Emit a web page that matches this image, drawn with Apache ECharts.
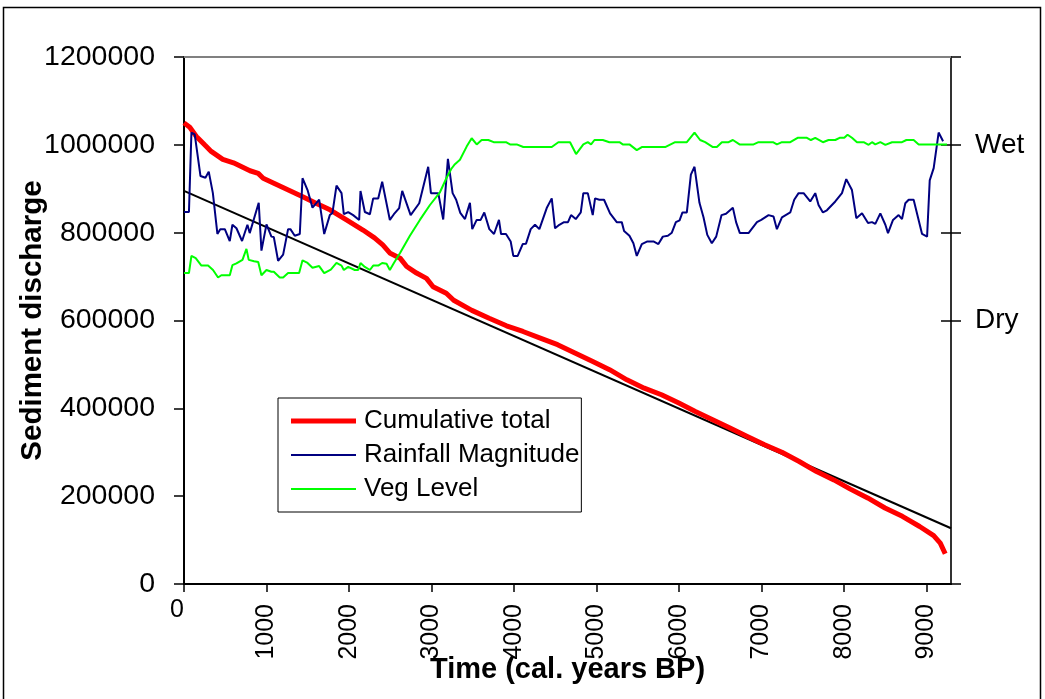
<!DOCTYPE html>
<html>
<head>
<meta charset="utf-8">
<script src="https://cdn.jsdelivr.net/npm/echarts@6/dist/echarts.min.js"></script>
<style>
html,body{margin:0;padding:0;background:#fff;}
#chart{width:1045px;height:699px;}
</style>
</head>
<body>
<div id="chart"></div>
<script>
// ---------------- DATA ----------------
var xTickValues = [0, 1000, 2000, 3000, 4000, 5000, 6000, 7000, 8000, 9000];
var yTickLabelsRight = { 1000000: 'Wet', 600000: 'Dry' };
var rightTickValues = [0, 600000, 800000, 1000000, 1200000];

var cumulativeYears = [0, 70, 150, 250, 330, 470, 600, 800, 900, 960, 1200, 1440, 1600, 1770, 1970, 2170, 2310, 2410, 2500, 2620, 2700, 2820, 2940, 3020, 3180, 3270, 3490, 3700, 3910, 4110, 4320, 4530, 4740, 4950, 5160, 5370, 5580, 5790, 6000, 6200, 6410, 6620, 6830, 7040, 7250, 7460, 7670, 7880, 8080, 8290, 8500, 8710, 8920, 9090, 9170, 9230];
var cumulativeValues = [1050000, 1040000, 1019000, 1000000, 985000, 967000, 959000, 941000, 935000, 924000, 903000, 882000, 867000, 852000, 829000, 806000, 788000, 772000, 753000, 742000, 723000, 708000, 696000, 677000, 662000, 646000, 623000, 605000, 588000, 575000, 560000, 545000, 526000, 507000, 488000, 465000, 446000, 431000, 412000, 393000, 374000, 355000, 336000, 317000, 300000, 279000, 256000, 237000, 216000, 196000, 173000, 154000, 131000, 110000, 93000, 69000];

var rainfallYears = [0, 60, 90, 130, 200, 260, 300, 350, 405, 440, 495, 555, 587, 636, 704, 769, 797, 906, 939, 1000, 1060, 1089, 1141, 1202, 1262, 1290, 1343, 1404, 1437, 1498, 1558, 1639, 1700, 1768, 1800, 1849, 1910, 1938, 1991, 2051, 2124, 2140, 2193, 2254, 2294, 2355, 2403, 2496, 2545, 2609, 2646, 2748, 2852, 2961, 2994, 3083, 3143, 3200, 3257, 3300, 3350, 3407, 3467, 3495, 3549, 3597, 3641, 3702, 3759, 3819, 3844, 3904, 3961, 3993, 4046, 4107, 4147, 4204, 4256, 4309, 4398, 4459, 4499, 4551, 4608, 4656, 4693, 4750, 4811, 4842, 4896, 4956, 4984, 5036, 5093, 5166, 5247, 5308, 5336, 5401, 5449, 5490, 5551, 5619, 5692, 5752, 5806, 5867, 5915, 5964, 6009, 6044, 6097, 6146, 6190, 6250, 6299, 6345, 6400, 6453, 6518, 6572, 6655, 6694, 6740, 6845, 6947, 6999, 7088, 7148, 7189, 7250, 7351, 7399, 7452, 7513, 7593, 7654, 7694, 7747, 7795, 7897, 7978, 8030, 8099, 8152, 8221, 8294, 8342, 8382, 8443, 8504, 8536, 8597, 8665, 8706, 8746, 8787, 8847, 8949, 9010, 9042, 9090, 9150, 9204];
var rainfallValues = [847000, 847000, 1028000, 1024000, 929000, 925000, 939000, 890000, 797000, 808000, 808000, 781000, 818000, 810000, 781000, 818000, 799000, 868000, 759000, 819000, 791000, 790000, 736000, 750000, 808000, 808000, 793000, 797000, 924000, 897000, 857000, 875000, 797000, 840000, 845000, 907000, 890000, 842000, 847000, 840000, 829000, 895000, 847000, 842000, 878000, 878000, 916000, 829000, 842000, 856000, 895000, 840000, 867000, 950000, 890000, 890000, 830000, 968000, 890000, 875000, 845000, 831000, 868000, 808000, 829000, 829000, 846000, 808000, 797000, 829000, 797000, 797000, 780000, 747000, 747000, 774000, 775000, 808000, 818000, 808000, 856000, 878000, 810000, 818000, 824000, 824000, 840000, 831000, 846000, 890000, 890000, 840000, 878000, 875000, 875000, 844000, 824000, 824000, 804000, 793000, 776000, 747000, 774000, 780000, 780000, 774000, 791000, 793000, 800000, 824000, 828000, 846000, 846000, 932000, 950000, 868000, 835000, 795000, 776000, 791000, 840000, 843000, 857000, 824000, 799000, 799000, 824000, 829000, 840000, 837000, 808000, 835000, 846000, 875000, 890000, 890000, 871000, 890000, 863000, 846000, 851000, 871000, 890000, 922000, 897000, 833000, 844000, 822000, 824000, 820000, 844000, 818000, 799000, 829000, 840000, 831000, 867000, 875000, 875000, 797000, 791000, 919000, 947000, 1028000, 1008000];

var vegYears = [0, 60, 90, 142, 211, 292, 352, 413, 453, 555, 587, 636, 709, 757, 785, 850, 900, 939, 1000, 1060, 1089, 1161, 1202, 1262, 1396, 1437, 1498, 1558, 1639, 1700, 1780, 1849, 1910, 1938, 1991, 2071, 2112, 2140, 2193, 2254, 2294, 2355, 2403, 2456, 2496, 2545, 2618, 2739, 2860, 2982, 3103, 3184, 3240, 3285, 3346, 3427, 3488, 3549, 3609, 3690, 3755, 3904, 3953, 4034, 4114, 4459, 4539, 4681, 4754, 4842, 4896, 4936, 4977, 5078, 5158, 5280, 5320, 5401, 5490, 5551, 5834, 5955, 6097, 6190, 6258, 6319, 6413, 6461, 6522, 6603, 6655, 6736, 6906, 6966, 7141, 7189, 7250, 7351, 7440, 7553, 7601, 7654, 7747, 7815, 7897, 7949, 8006, 8046, 8099, 8160, 8241, 8301, 8342, 8382, 8443, 8504, 8585, 8706, 8759, 8847, 8908, 9252];
var vegValues = [708000, 708000, 747000, 742000, 725000, 725000, 715000, 698000, 703000, 703000, 726000, 730000, 738000, 763000, 738000, 735000, 733000, 703000, 715000, 711000, 711000, 698000, 698000, 708000, 708000, 737000, 731000, 720000, 724000, 708000, 716000, 731000, 725000, 715000, 722000, 715000, 715000, 731000, 722000, 715000, 725000, 725000, 731000, 729000, 715000, 731000, 753000, 793000, 829000, 863000, 892000, 925000, 945000, 956000, 966000, 996000, 1015000, 1001000, 1011000, 1011000, 1006000, 1006000, 1001000, 1001000, 995000, 995000, 1006000, 1006000, 979000, 1001000, 1006000, 1001000, 1011000, 1011000, 1006000, 1006000, 1001000, 1001000, 988000, 995000, 995000, 1006000, 1006000, 1028000, 1011000, 1006000, 995000, 995000, 1006000, 1006000, 1011000, 1001000, 1001000, 1006000, 1006000, 1001000, 1006000, 1006000, 1016000, 1016000, 1011000, 1016000, 1006000, 1011000, 1011000, 1016000, 1016000, 1023000, 1016000, 1006000, 1006000, 1000000, 1006000, 1001000, 1006000, 1000000, 1006000, 1006000, 1011000, 1011000, 1001000, 1001000];

var trendYears = [0, 9300];
var trendValues = [895000, 127000];

// ---------------- BUILD ----------------
function zip(xs, ys) { return xs.map(function (x, i) { return [x, ys[i]]; }); }
function plain(v) { return String(v); }
// legend line icons: a bar inside a 65x25 box (tiny corner dots fix the bounding box)
function lineIcon(th) {
  var y0 = 12.5 - th / 2;
  return 'path://M0,0h0.01v0.01h-0.01z M0,' + y0 + 'h65v' + th + 'h-65z M64.99,24.99h0.01v0.01h-0.01z';
}

var FONT = "'Liberation Sans', Arial, sans-serif";
var chart = echarts.init(document.getElementById('chart'), null, { renderer: 'canvas' });

var option = {
  backgroundColor: '#ffffff',
  animation: false,
  textStyle: { fontFamily: FONT, color: '#000' },
  grid: { left: 184, right: 94, top: 57, bottom: 115, containLabel: false, outerBoundsMode: 'none' },
  graphic: [{
    type: 'rect', silent: true, z: -10,
    shape: { x: 3.5, y: 7.5, width: 1037, height: 720 },
    style: { fill: 'none', stroke: '#000', lineWidth: 1.5 }
  }],
  legend: {
    orient: 'vertical', left: 278, top: 398,
    padding: [10, 2, 10, 13], itemGap: 8,
    itemWidth: 65, itemHeight: 25,
    backgroundColor: '#fff', borderColor: '#000', borderWidth: 1,
    itemStyle: { borderWidth: 0 },
    data: [
      { name: 'Cumulative total', icon: lineIcon(5) },
      { name: 'Rainfall Magnitude', icon: lineIcon(2) },
      { name: 'Veg Level', icon: lineIcon(2) }
    ],
    textStyle: { fontFamily: FONT, fontSize: 26, color: '#000', padding: [0, 0, 0, 3] }
  },
  xAxis: [{
    type: 'value', min: 0, max: 9300, position: 'bottom',
    name: 'Time (cal. years BP)', nameLocation: 'middle', nameGap: 71, nameMoveOverlap: false,
    nameTextStyle: { fontFamily: FONT, fontSize: 29, fontWeight: 'bold', color: '#000' },
    axisLine: { onZero: false, lineStyle: { color: '#000', width: 2 } },
    axisTick: { show: true, customValues: xTickValues, length: 8, lineStyle: { color: '#000', width: 1.5 } },
    axisLabel: { customValues: xTickValues.slice(1), formatter: plain, rotate: 90, fontFamily: FONT, fontSize: 25, color: '#000', margin: 20 },
    splitLine: { show: false }
  }, {
    type: 'value', min: 0, max: 9300, position: 'bottom',
    axisLine: { show: false, onZero: false }, axisTick: { show: false },
    axisLabel: { customValues: [xTickValues[0]], formatter: plain, rotate: 0, align: 'right', fontFamily: FONT, fontSize: 25, color: '#000', margin: 14 },
    splitLine: { show: false }
  }, {
    type: 'value', min: 0, max: 9300, position: 'top',
    axisLine: { show: true, onZero: false, lineStyle: { color: '#808080', width: 2 } },
    axisTick: { show: false }, axisLabel: { show: false }, splitLine: { show: false }
  }],
  yAxis: [{
    type: 'value', min: 0, max: 1200000, interval: 200000, position: 'left',
    name: 'Sediment discharge', nameLocation: 'middle', nameGap: 136, nameMoveOverlap: false,
    nameTextStyle: { fontFamily: FONT, fontSize: 29.5, fontWeight: 'bold', color: '#000' },
    axisLine: { show: true, onZero: false, lineStyle: { color: '#000', width: 2 } },
    axisTick: { show: true, length: 10, lineStyle: { color: '#000', width: 1.5 } },
    axisLabel: { formatter: plain, fontFamily: FONT, fontSize: 28.5, color: '#000', margin: 29 },
    splitLine: { show: false }
  }, {
    type: 'value', min: 0, max: 1200000, position: 'right',
    axisLine: { show: true, onZero: false, lineStyle: { color: '#333', width: 2 } },
    axisTick: { show: true, customValues: rightTickValues, length: 10, lineStyle: { color: '#000', width: 1.5 } },
    axisLabel: {
      customValues: Object.keys(yTickLabelsRight).map(Number),
      formatter: function (v) { return yTickLabelsRight[v] || ''; },
      fontFamily: FONT, fontSize: 28, color: '#000', margin: 24
    },
    splitLine: { show: false }
  }, {
    type: 'value', min: 0, max: 1200000, position: 'right',
    axisLine: { show: false, onZero: false },
    axisTick: { show: true, inside: true, customValues: rightTickValues.slice(1, 4), length: 10, lineStyle: { color: '#000', width: 1.5 } },
    axisLabel: { show: false }, splitLine: { show: false }
  }],
  series: [{
    type: 'line', data: zip(trendYears, trendValues),
    symbol: 'none', lineStyle: { color: '#000', width: 2 }, z: 2, silent: true
  }, {
    name: 'Cumulative total', type: 'line', data: zip(cumulativeYears, cumulativeValues),
    symbol: 'none', color: '#ff0000', lineStyle: { color: '#ff0000', width: 5 }, z: 3
  }, {
    name: 'Rainfall Magnitude', type: 'line', data: zip(rainfallYears, rainfallValues),
    symbol: 'none', color: '#000080', lineStyle: { color: '#000080', width: 2 }, z: 4
  }, {
    name: 'Veg Level', type: 'line', data: zip(vegYears, vegValues),
    symbol: 'none', color: '#00ff00', lineStyle: { color: '#00ff00', width: 2 }, z: 5
  }]
};
chart.setOption(option);
</script>
</body>
</html>
